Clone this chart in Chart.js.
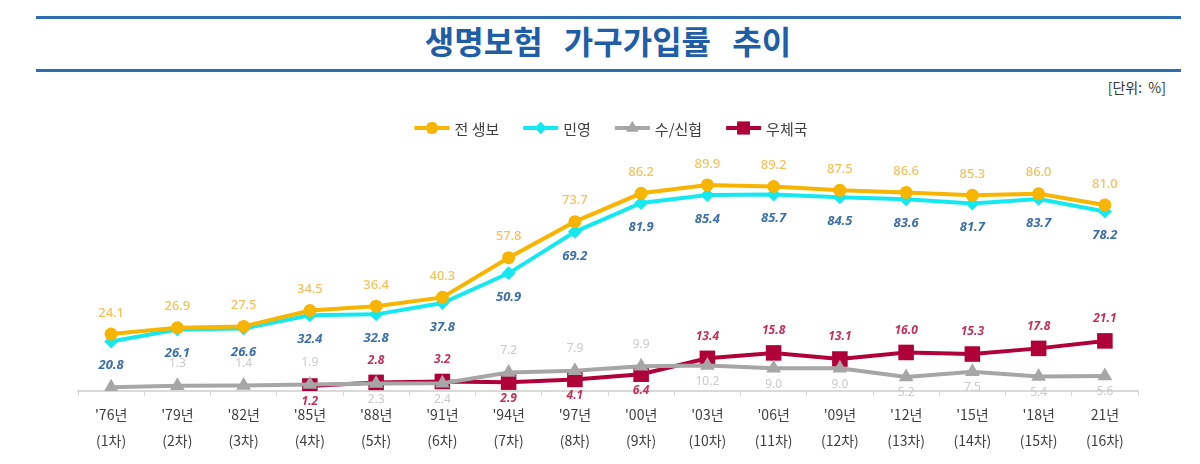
<!DOCTYPE html>
<html>
<head>
<meta charset="utf-8">
<script src="https://cdn.jsdelivr.net/npm/chart.js@4.4.1/dist/chart.umd.min.js"></script>
<style>
  html, body { margin: 0; padding: 0; background: #fff; width: 1200px; height: 464px; overflow: hidden; }
  #wrap { position: relative; width: 1200px; height: 464px; }
  canvas { position: absolute; left: 0; top: 0; }
  .rule { position: absolute; left: 36px; width: 1145px; height: 3px; background: #2f6db3; }
  #title { position: absolute; left: 0; width: 1216px; top: 19px; text-align: center;
           font-family: "Noto Sans CJK KR", "Noto Sans", sans-serif; font-weight: 700; font-size: 32px;
           color: #1f5ea6; word-spacing: 14px; letter-spacing: 0px; line-height: 42px; }
  #unit { position: absolute; right: 34px; top: 77px; font-family: "Noto Sans CJK KR", sans-serif;
          font-size: 14px; color: #333; white-space: pre; }
</style>
</head>
<body>
<div id="wrap">
  <div class="rule" style="top:16px"></div>
  <div id="title">생명보험 가구가입률 추이</div>
  <div class="rule" style="top:69px"></div>
  <div id="unit">[단위:  %]</div>
  <canvas id="c" width="1200" height="464"></canvas>
</div>
<script>
// ---- data ----
const years = ["'76년","'79년","'82년","'85년","'88년","'91년","'94년","'97년","'00년","'03년","'06년","'09년","'12년","'15년","'18년","21년"];
const rounds = ["(1차)","(2차)","(3차)","(4차)","(5차)","(6차)","(7차)","(8차)","(9차)","(10차)","(11차)","(12차)","(13차)","(14차)","(15차)","(16차)"];
const seriesNames = ["전 생보", "민영", "수/신협", "우체국"];
const allLife = [24.1, 26.9, 27.5, 34.5, 36.4, 40.3, 57.8, 73.7, 86.2, 89.9, 89.2, 87.5, 86.6, 85.3, 86.0, 81.0];
const privateLife = [20.8, 26.1, 26.6, 32.4, 32.8, 37.8, 50.9, 69.2, 81.9, 85.4, 85.7, 84.5, 83.6, 81.7, 83.7, 78.2];
const coop = [0.6, 1.3, 1.4, 1.9, 2.3, 2.4, 7.2, 7.9, 9.9, 10.2, 9.0, 9.0, 5.2, 7.5, 5.4, 5.6];
const postal = [null, null, null, 1.2, 2.8, 3.2, 2.9, 4.1, 6.4, 13.4, 15.8, 13.1, 16.0, 15.3, 17.8, 21.1];

// ---- label placement (style, not data): a = above, b = below, '' = hidden ----
const posAll = Array(16).fill('a');
const posPrivate = Array(16).fill('b');
const posCoop = ['', 'a','a','a','b','b','a','a','a','b','b','b','b','b','b','b'];
const posPostal = ['', '', '', 'b','a','a','b','b','b','a','a','a','a','a','a','a'];

const colors = ['#f7b500', '#16e8f0', '#a6a6a6', '#b0003a'];
const labelStyles = [
  { color: '#f1c35e', font: '500 13px "Noto Sans", sans-serif', up: 21, down: 22, pos: posAll },
  { color: '#3c6ea8', font: 'italic 700 13px "Noto Sans", sans-serif', up: 22, down: 24, pos: posPrivate },
  { color: '#cacaca', font: '400 12px "Noto Sans", sans-serif', up: 22, down: 16, pos: posCoop },
  { color: '#c0305a', font: 'italic 700 12px "Noto Sans", sans-serif', up: 22, down: 16, pos: posPostal }
];
const pointStyles = ['circle', 'rectRot', 'triangle', 'rect'];
const pointRadii = [6.5, 7, 8.5, 11];

const valueLabels = {
  id: 'valueLabels',
  afterDatasetsDraw(chart) {
    const ctx = chart.ctx;
    ctx.save();
    ctx.textAlign = 'center';
    ctx.textBaseline = 'middle';
    chart.data.datasets.forEach((ds, i) => {
      const meta = chart.getDatasetMeta(i);
      const st = labelStyles[i];
      ctx.fillStyle = st.color;
      ctx.font = st.font;
      meta.data.forEach((pt, j) => {
        const v = ds.data[j];
        const p = st.pos[j];
        if (v === null || !p) return;
        const y = p === 'a' ? pt.y - st.up : pt.y + st.down;
        ctx.fillText(v.toFixed(1), pt.x, y);
      });
    });
    ctx.restore();
  }
};

const legendRadii = [6, 6, 7, 9];
const customLegend = {
  id: 'customLegend',
  afterDraw(chart) {
    const ctx = chart.ctx;
    ctx.save();
    ctx.font = '15px "Noto Sans CJK KR", sans-serif';
    const lineLen = 35, gap = 5, itemGap = 24, y = 128;
    const widths = seriesNames.map(n => ctx.measureText(n).width);
    let total = 0;
    widths.forEach((w, i) => { total += lineLen + gap + w + (i < widths.length - 1 ? itemGap : 0); });
    let x = 611 - total / 2;
    seriesNames.forEach((n, i) => {
      ctx.strokeStyle = colors[i];
      ctx.lineWidth = 4;
      ctx.beginPath(); ctx.moveTo(x, y); ctx.lineTo(x + lineLen, y); ctx.stroke();
      ctx.fillStyle = colors[i];
      Chart.helpers.drawPoint(ctx, { pointStyle: pointStyles[i], radius: legendRadii[i], borderWidth: 0, rotation: 0 }, x + lineLen / 2, y);
      ctx.fill();
      ctx.fillStyle = '#404040';
      ctx.textBaseline = 'middle';
      ctx.textAlign = 'left';
      ctx.fillText(n, x + lineLen + gap, y + 1);
      x += lineLen + gap + widths[i] + itemGap;
    });
    ctx.restore();
  }
};

const seriesData = [allLife, privateLife, coop, postal];
new Chart(document.getElementById('c'), {
  type: 'line',
  data: {
    labels: years.map((y, i) => [y, rounds[i]]),
    datasets: seriesData.map((d, i) => ({
      label: seriesNames[i],
      data: d,
      borderColor: colors[i],
      backgroundColor: colors[i],
      borderWidth: 4,
      pointStyle: pointStyles[i],
      pointRadius: pointRadii[i],
      pointBorderWidth: 0,
      pointBackgroundColor: colors[i],
      tension: 0,
      spanGaps: false
    }))
  },
  options: {
    responsive: false,
    animation: false,
    devicePixelRatio: 1,
    layout: { padding: { top: 162, left: 78, right: 62, bottom: 0 } },
    plugins: { legend: { display: false }, tooltip: { enabled: false }, title: { display: false } },
    scales: {
      x: {
        offset: true,
        grid: { display: true, drawOnChartArea: false, drawTicks: true, tickLength: 5, color: '#d9d9d9', offset: true },
        border: { display: true, color: '#d9d9d9', width: 2 },
        ticks: { color: '#404040', font: { family: '"Noto Sans CJK KR", sans-serif', size: 14, lineHeight: 1.9 }, padding: 5, maxRotation: 0, autoSkip: false },
        afterFit(scale) { scale.height = 73; }
      },
      y: { display: false, min: -1, max: 100 }
    }
  },
  plugins: [valueLabels, customLegend]
});
</script>
</body>
</html>
